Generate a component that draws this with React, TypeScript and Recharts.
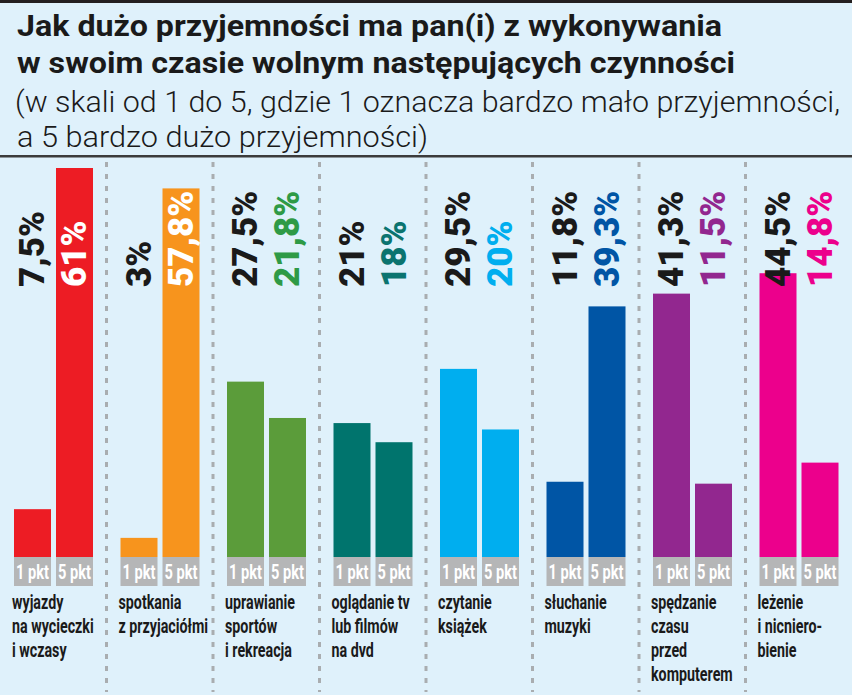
import { BarChart, Bar, XAxis, YAxis, Cell, LabelList } from 'recharts';

const categories = [
  'wyjazdy\nna wycieczki\ni wczasy',
  'spotkania\nz przyjaciółmi',
  'uprawianie\nsportów\ni rekreacja',
  'oglądanie tv\nlub filmów\nna dvd',
  'czytanie\nksiążek',
  'słuchanie\nmuzyki',
  'spędzanie\nczasu\nprzed\nkomputerem',
  'leżenie\ni nicniero-\nbienie',
];
const pkt1 = [7.5, 3, 27.5, 21, 29.5, 11.8, 41.3, 44.5];
const pkt5 = [61, 57.8, 21.8, 18, 20, 39.3, 11.5, 14.8];
const barColors = ['#ed1c24', '#f7941d', '#5b9c3a', '#00746d', '#00aeef', '#0055a5', '#92278f', '#ec008c'];
const labelColors = ['#ed1c24', '#f7941d', '#2e9a46', '#0b746f', '#00aeef', '#0055a5', '#92278f', '#ec008c'];
const darkLabels = categories.map(() => '#1a1a1a');
const scaleTags = ['1 pkt', '5 pkt'];

const titleLines = [
  'Jak dużo przyjemności ma pan(i) z wykonywania',
  'w swoim czasie wolnym następujących czynności',
];
const subtitleLines = [
  '(w skali od 1 do 5, gdzie 1 oznacza bardzo mało przyjemności,',
  'a 5 bardzo dużo przyjemności)',
];

const data = categories.map((name, i) => ({ name, p1: pkt1[i], p5: pkt5[i] }));

const W = 852;
const H = 695;
const LABEL_BASE = 287;
const BG = '#dff1fb';
const INK = '#1a1a1a';

const fmt = (v: number) => String(v).replace('.', ',') + '%';

function makeShape(tag: string) {
  return (props: any) => {
    const { x, y, width, height, fill } = props;
    return (
      <g>
        <rect x={x} y={y} width={width} height={height} fill={fill} />
        <rect x={x} y={y + height} width={width} height={29} fill="#b5b6b7" />
        <text
          x={x + width / 2}
          y={y + height + 22}
          textAnchor="middle"
          fill="#fff"
          fontFamily="Roboto"
          fontWeight={700}
          fontSize={20}
          textLength={width - 4}
          lengthAdjust="spacingAndGlyphs"
        >
          {tag}
        </text>
      </g>
    );
  };
}

function makeLabel(colors: string[]) {
  return (props: any) => {
    const { x, y, width, value, index } = props;
    const cx = x + width / 2 - 1;
    const inside = y < LABEL_BASE - 60;
    return (
      <text
        transform={`translate(${cx},${LABEL_BASE}) rotate(-90)`}
        dy="0.36em"
        fill={inside ? '#fff' : colors[index]}
        fontFamily="Roboto"
        fontWeight={900}
        fontSize={35}
      >
        {fmt(value)}
      </text>
    );
  };
}

function CategoryTick(props: any) {
  const { x, y, payload, index } = props;
  const band = W / categories.length;
  const left = x - band / 2;
  const lines = String(payload.value).split('\n');
  return (
    <g>
      {index > 0 && (
        <line x1={left} x2={left} y1={162} y2={692} stroke="#a9adb0" strokeWidth={3} strokeDasharray="5 7" />
      )}
      {lines.map((ln, i) => (
        <text
          key={i}
          transform={`translate(${left + 12},${y + 52 + i * 24}) scale(0.68,1)`}
          fill={INK}
          fontFamily="Roboto"
          fontWeight={700}
          fontSize={21}
        >
          {ln}
        </text>
      ))}
    </g>
  );
}

export default function App() {
  return (
    <div style={{ position: 'absolute', left: 0, top: 0, width: W, height: H, background: BG, overflow: 'hidden' }}>
      <svg width={W} height={H} style={{ position: 'absolute', left: 0, top: 0 }}>
        <rect x={0} y={0} width={W} height={3} fill="#231f20" />
        <rect x={0} y={155} width={W} height={2.5} fill="#3b3b3b" />
        <text x={17} y={36} fill={INK} fontFamily="Roboto" fontWeight={700} fontSize={30} textLength={705} lengthAdjust="spacingAndGlyphs">
          {titleLines[0]}
        </text>
        <text x={17} y={73} fill={INK} fontFamily="Roboto" fontWeight={700} fontSize={30} textLength={718} lengthAdjust="spacingAndGlyphs">
          {titleLines[1]}
        </text>
        <text x={15} y={112} fill={INK} fontFamily="Roboto" fontWeight={300} fontSize={30} textLength={825} lengthAdjust="spacingAndGlyphs">
          {subtitleLines[0]}
        </text>
        <text x={17} y={147} fill={INK} fontFamily="Roboto" fontWeight={300} fontSize={30} textLength={411} lengthAdjust="spacingAndGlyphs">
          {subtitleLines[1]}
        </text>
      </svg>
      <div style={{ position: 'absolute', left: 0, top: 0 }}>
        <BarChart
          width={W}
          height={H}
          data={data}
          margin={{ top: 168, right: 0, bottom: 0, left: 0 }}
          barSize={37}
          barGap={5}
        >
          <XAxis
            dataKey="name"
            axisLine={false}
            tickLine={false}
            tickSize={0}
            tickMargin={0}
            height={138}
            interval={0}
            tick={<CategoryTick />}
          />
          <YAxis hide domain={[0, 'dataMax']} />
          <Bar dataKey="p1" isAnimationActive={false} shape={makeShape(scaleTags[0])}>
            {data.map((_, i) => (
              <Cell key={i} fill={barColors[i]} />
            ))}
            <LabelList dataKey="p1" content={makeLabel(darkLabels)} />
          </Bar>
          <Bar dataKey="p5" isAnimationActive={false} shape={makeShape(scaleTags[1])}>
            {data.map((_, i) => (
              <Cell key={i} fill={barColors[i]} />
            ))}
            <LabelList dataKey="p5" content={makeLabel(labelColors)} />
          </Bar>
        </BarChart>
      </div>
    </div>
  );
}
